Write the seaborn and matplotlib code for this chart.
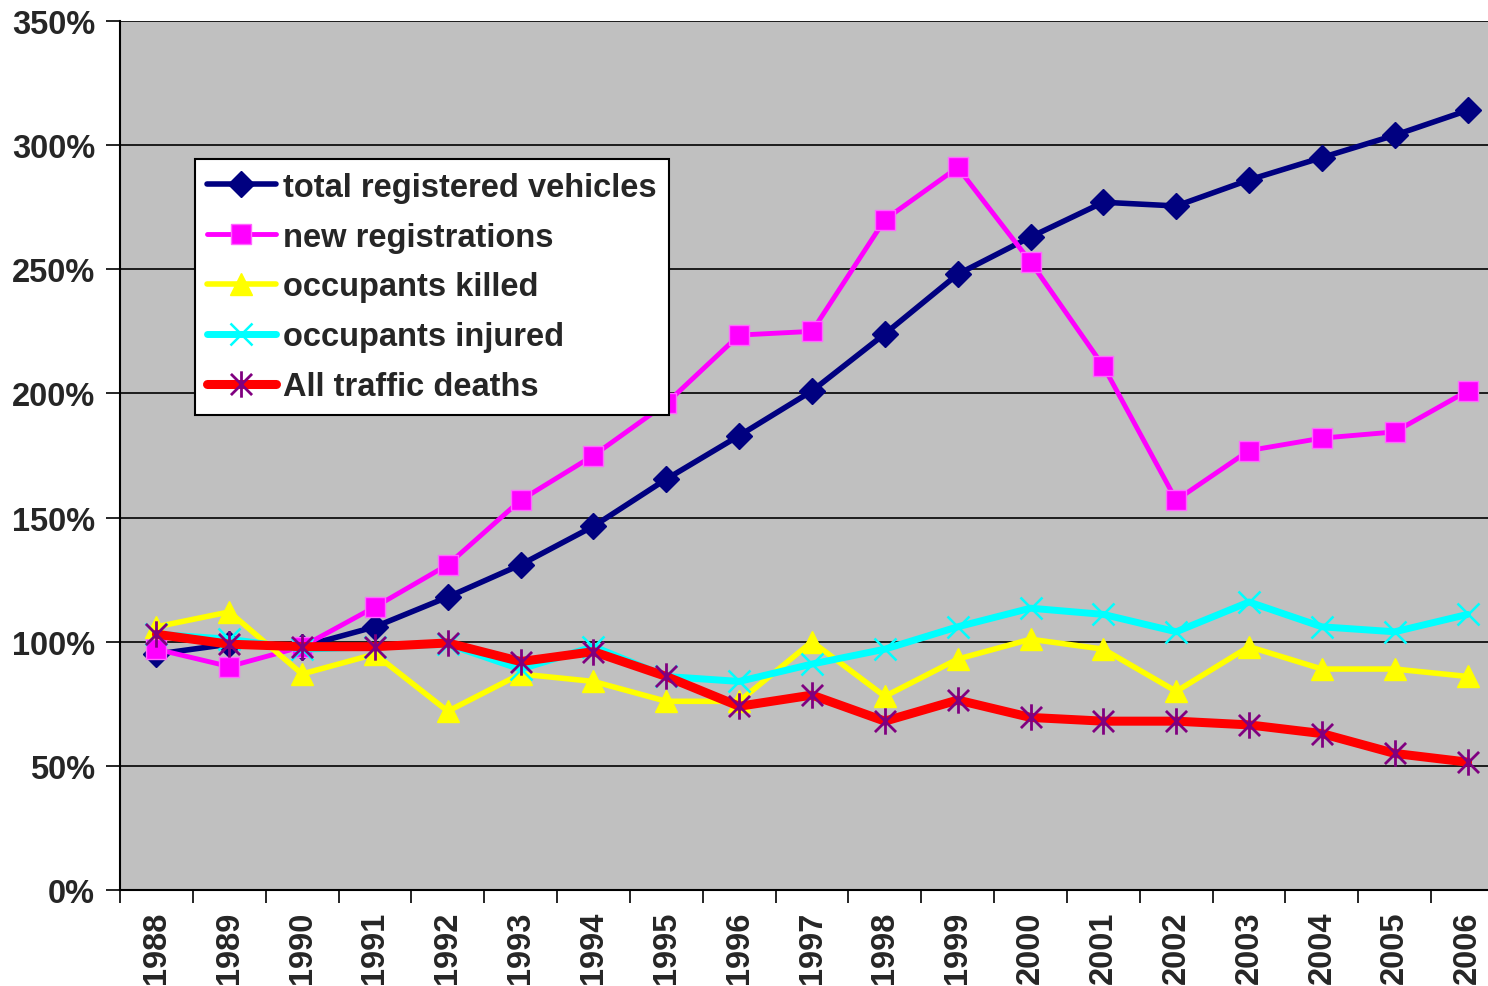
import matplotlib
matplotlib.use("Agg")
import matplotlib.pyplot as plt
import seaborn as sns
import numpy as np
import pandas as pd
from matplotlib.path import Path
from matplotlib.ticker import FixedLocator, FuncFormatter

years = list(range(1988, 2007))
total_registered = [95, 99, 98, 106, 118, 131, 146.5, 165.5, 183, 201, 224, 248, 263, 277, 275.5, 286, 295, 304, 314]
new_registrations = [97, 90, 98, 114, 131, 157, 175, 196, 223.5, 225, 270, 291, 253, 211, 157, 177, 182, 184.5, 201]
occupants_killed = [106, 112, 87, 95, 72, 87, 84, 76, 76, 100, 78, 93, 101, 97, 80, 98, 89, 89, 86]
occupants_injured = [103, 101, 97, 98, 99, 89, 98, 86, 84, 91, 97, 106, 113.5, 111, 104, 116, 106, 104, 111]
all_deaths = [103, 99, 98, 98, 99.5, 92, 96, 86, 74, 78.5, 68, 76.5, 69.5, 68, 68, 66.5, 63, 55, 51.5]
y_ticks = [0, 50, 100, 150, 200, 250, 300, 350]

series_names = ["total registered vehicles", "new registrations", "occupants killed",
                "occupants injured", "All traffic deaths"]
series_values = [total_registered, new_registrations, occupants_killed, occupants_injured, all_deaths]

# asterisk marker: vertical line + X
star_path = Path(
    [(0, -1), (0, 1), (-0.8, -0.8), (0.8, 0.8), (-0.8, 0.8), (0.8, -0.8)],
    [Path.MOVETO, Path.LINETO, Path.MOVETO, Path.LINETO, Path.MOVETO, Path.LINETO],
)

styles = [
    dict(color="#000080", lw=4, marker="D", ms=13, mfc="#000080", mec="#000080", mew=1),
    dict(color="#FF00FF", lw=3.5, marker="s", ms=14.5, mfc="#FF00FF", mec="#FF66FF", mew=1),
    dict(color="#FFFF00", lw=4, marker="^", ms=16, mfc="#FFFF00", mec="#FFFF00", mew=1),
    dict(color="#00FFFF", lw=5, marker="x", ms=16, mfc="#00FFFF", mec="#00FFFF", mew=1.8),
    dict(color="#FF0000", lw=6.5, marker=star_path, ms=19, mfc="none", mec="#800080", mew=2),
]

sns.set_style("white")
plt.rcParams["font.family"] = ["Liberation Sans", "DejaVu Sans"]
plt.rcParams["font.weight"] = "bold"

fig = plt.figure(figsize=(14.88, 9.87), dpi=100)
ax = fig.add_axes([120 / 1488, 96 / 987, 1384 / 1488, 869 / 987])
ax.set_facecolor("#C0C0C0")

for name, vals, st in zip(series_names, series_values, styles):
    df = pd.DataFrame({"year": years, "value": vals})
    sns.lineplot(data=df, x="year", y="value", ax=ax, color=st["color"], linewidth=st["lw"],
                 marker=st["marker"], markersize=st["ms"], markerfacecolor=st["mfc"],
                 markeredgecolor=st["mec"], markeredgewidth=st["mew"], label=name,
                 estimator=None, errorbar=None, clip_on=False)

ax.set_xlim(1987.5, 2006.5)
ax.set_ylim(0, 350)
ax.set_xlabel("")
ax.set_ylabel("")

ax.set_yticks(y_ticks)
ax.yaxis.set_major_formatter(FuncFormatter(lambda v, p: f"{int(v)}%"))
ax.yaxis.grid(True, color="black", linewidth=1.2)
ax.set_axisbelow(True)

ax.set_xticks(years)
ax.set_xticklabels([str(y) for y in years], rotation=90)
ax.xaxis.set_minor_locator(FixedLocator([y + 0.5 for y in [1987] + years]))
ax.tick_params(axis="x", which="major", length=0, pad=15, labelsize=23.5)
ax.tick_params(axis="x", which="minor", length=9, width=1.2, color="black", direction="out", bottom=True)
ax.tick_params(axis="y", which="major", length=10, width=1.2, color="black", direction="out", left=True, labelsize=23.5, pad=8)
for lab in ax.get_xticklabels() + ax.get_yticklabels():
    lab.set_fontweight("bold")

for s in ["top", "right"]:
    ax.spines[s].set_visible(False)
for s in ["left", "bottom"]:
    ax.spines[s].set_color("black")
    ax.spines[s].set_linewidth(1.5)

leg = ax.legend(loc="upper left", bbox_to_anchor=(0.054, 0.841), borderaxespad=0,
                prop={"weight": "bold", "size": 23.5, "family": "Liberation Sans"},
                frameon=True, fancybox=False, shadow=False, framealpha=1,
                handlelength=2.1, handletextpad=0.22, labelspacing=0.58,
                borderpad=0.38, markerscale=1.0)
leg.get_frame().set_edgecolor("black")
leg.get_frame().set_linewidth(1.5)
leg.get_frame().set_facecolor("white")

fig.savefig("out.png", dpi=100)
